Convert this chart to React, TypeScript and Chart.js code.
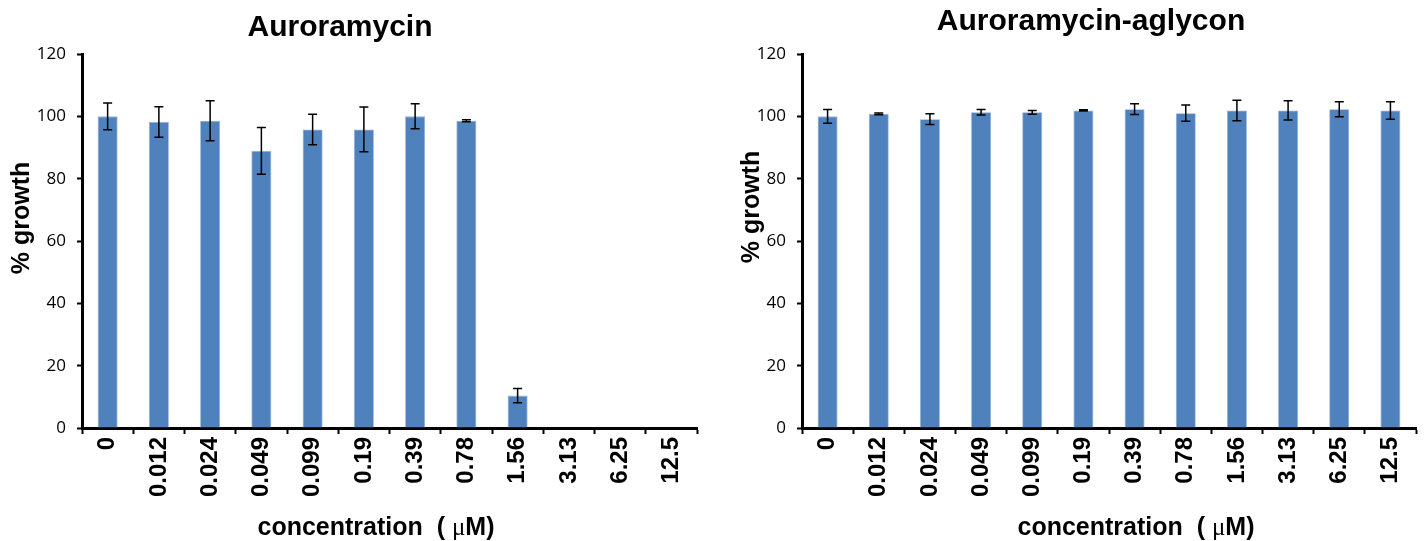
import React, { useEffect, useRef } from "react";
import { Chart, registerables } from "chart.js";

Chart.register(...registerables);

// ---- data ----
const concentrations = ["0", "0.012", "0.024", "0.049", "0.099", "0.19", "0.39", "0.78", "1.56", "3.13", "6.25", "12.5"];
const auroramycinGrowth = [100, 98.2, 98.6, 88.9, 95.8, 95.8, 100, 98.6, 10.4, 0, 0, 0];
const auroramycinError = [4.3, 4.9, 6.4, 7.5, 4.9, 7.2, 4.0, 0.3, 2.3, 0, 0, 0];
const aglyconGrowth = [100, 100.8, 99.1, 101.3, 101.3, 101.9, 102.3, 101.0, 101.9, 101.9, 102.3, 101.9];
const aglyconError = [2.2, 0.3, 1.7, 0.9, 0.6, 0.2, 1.7, 2.6, 3.3, 3.1, 2.4, 2.8];
const yMin = 0;
const yMax = 120;
const yStep = 20;

const SANS = "'Liberation Sans', Arial, sans-serif";
const BAR_COLOR = "#4f81bd";

const errorBarPlugin = {
  id: "errorBars",
  afterDatasetsDraw(chart: any, _args: any, opts: any) {
    const errs: number[] = opts.errors || [];
    const meta = chart.getDatasetMeta(0);
    const ys = chart.scales.y;
    const values: number[] = chart.data.datasets[0].data;
    const ctx = chart.ctx;
    ctx.save();
    ctx.strokeStyle = "#000";
    ctx.lineWidth = 1.5;
    meta.data.forEach((bar: any, i: number) => {
      const e = errs[i];
      const v = values[i];
      if (!e || !v) return;
      const x = bar.x;
      const yt = ys.getPixelForValue(v + e);
      const yb = ys.getPixelForValue(v - e);
      const cap = 4.5;
      ctx.beginPath();
      ctx.moveTo(x, yt);
      ctx.lineTo(x, yb);
      ctx.moveTo(x - cap, yt);
      ctx.lineTo(x + cap, yt);
      ctx.moveTo(x - cap, yb);
      ctx.lineTo(x + cap, yb);
      ctx.stroke();
    });
    ctx.restore();
  },
};

const labelsPlugin = {
  id: "panelLabels",
  afterDraw(chart: any, _args: any, o: any) {
    const ctx = chart.ctx;
    ctx.save();
    ctx.fillStyle = "#000";
    ctx.font = `bold 30px ${SANS}`;
    ctx.textAlign = "center";
    ctx.textBaseline = "middle";
    ctx.fillText(o.title, o.titleX, o.titleY);
    ctx.save();
    ctx.translate(o.yTitleX, o.yTitleY);
    ctx.rotate(-Math.PI / 2);
    ctx.font = `bold 25px ${SANS}`;
    ctx.fillText("% growth", 0, 0);
    ctx.restore();
    const partA = "concentration  ( ";
    const partB = "\u03bc";
    const partC = "M)";
    const fA = `bold 25px ${SANS}`;
    const fB = `25px 'Liberation Serif', 'Times New Roman', serif`;
    ctx.font = fA;
    const wA = ctx.measureText(partA).width;
    const wC = ctx.measureText(partC).width;
    ctx.font = fB;
    const wB = ctx.measureText(partB).width;
    const total = wA + wB + wC;
    let x = o.xTitleX - total / 2;
    ctx.textAlign = "left";
    ctx.textBaseline = "alphabetic";
    ctx.font = fA;
    ctx.fillText(partA, x, o.xTitleY);
    x += wA;
    ctx.font = fB;
    ctx.fillText(partB, x, o.xTitleY);
    x += wB;
    ctx.font = fA;
    ctx.fillText(partC, x, o.xTitleY);
    ctx.restore();
  },
};

type PanelProps = {
  left: number;
  values: number[];
  errors: number[];
  title: string;
  titleX: number;
  titleY: number;
  yTitleX: number;
  yTitleY: number;
  xTitleX: number;
  xTitleY: number;
  yAxisWidth: number;
  padRight: number;
};

function Panel(p: PanelProps) {
  const ref = useRef<HTMLCanvasElement | null>(null);
  useEffect(() => {
    if (!ref.current) return;
    const chart = new Chart(ref.current, {
      type: "bar",
      data: {
        labels: concentrations,
        datasets: [
          {
            data: p.values,
            backgroundColor: BAR_COLOR,
            borderColor: "#8eacd6",
            borderWidth: (c: any) => (c.raw > 0 ? 0.8 : 0),
            borderSkipped: "start",
            barPercentage: 0.39,
            categoryPercentage: 1,
          },
        ],
      },
      plugins: [errorBarPlugin, labelsPlugin],
      options: {
        responsive: false,
        animation: false,
        devicePixelRatio: 1,
        layout: { padding: { left: 0, right: p.padRight, top: 54, bottom: 0 } },
        plugins: {
          legend: { display: false },
          tooltip: { enabled: false },
          title: { display: false },
          errorBars: { errors: p.errors },
          panelLabels: {
            title: p.title,
            titleX: p.titleX,
            titleY: p.titleY,
            yTitleX: p.yTitleX,
            yTitleY: p.yTitleY,
            xTitleX: p.xTitleX,
            xTitleY: p.xTitleY,
          },
        } as any,
        scales: {
          x: {
            z: 1,
            offset: true,
            grid: {
              offset: true,
              drawOnChartArea: false,
              drawTicks: true,
              tickLength: 6,
              tickWidth: 2,
              tickColor: "#000",
            },
            border: { display: true, color: "#000", width: 3 },
            ticks: {
              autoSkip: false,
              minRotation: 90,
              maxRotation: 90,
              padding: 3,
              color: "#000",
              font: { family: SANS, size: 24, weight: "bold" },
            },
            afterFit: (s: any) => {
              s.height = 113;
            },
          },
          y: {
            z: 1,
            min: yMin,
            max: yMax,
            grid: {
              drawOnChartArea: false,
              drawTicks: true,
              tickLength: 5,
              tickWidth: 2,
              tickColor: "#000",
            },
            border: { display: true, color: "#000", width: 3 },
            ticks: {
              stepSize: yStep,
              padding: 11,
              color: "#000",
              font: { family: "'Open Sans', 'Liberation Sans', sans-serif", size: 17 },
            },
            afterFit: (s: any) => {
              s.width = p.yAxisWidth;
            },
          },
        },
      } as any,
    });
    return () => chart.destroy();
  }, []);
  return (
    <canvas
      ref={ref}
      width={712}
      height={541}
      style={{ position: "absolute", left: p.left, top: 0, width: 712, height: 541 }}
    />
  );
}

export default function App() {
  return (
    <div style={{ position: "absolute", left: 0, top: 0, width: 1424, height: 541, background: "#fff", overflow: "hidden" }}>
      <Panel
        left={0}
        values={auroramycinGrowth}
        errors={auroramycinError}
        title="Auroramycin"
        titleX={340}
        titleY={28}
        yTitleX={22}
        yTitleY={218}
        xTitleX={376}
        xTitleY={535}
        yAxisWidth={82}
        padRight={15}
      />
      <Panel
        left={712}
        values={aglyconGrowth}
        errors={aglyconError}
        title="Auroramycin-aglycon"
        titleX={379}
        titleY={22}
        yTitleX={40}
        yTitleY={207}
        xTitleX={424}
        xTitleY={535}
        yAxisWidth={90}
        padRight={8}
      />
    </div>
  );
}
